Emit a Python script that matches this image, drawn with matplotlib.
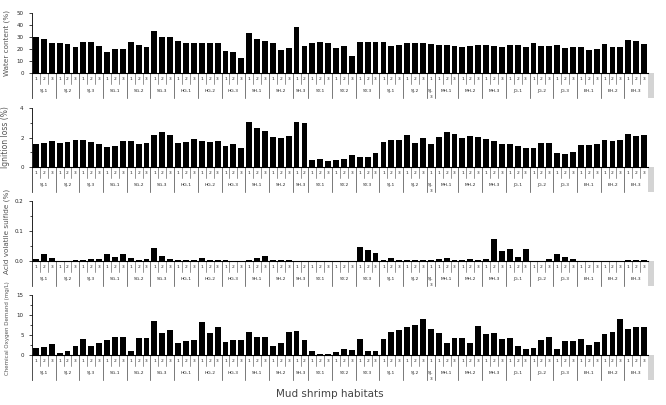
import numpy as np
import matplotlib
matplotlib.use("Agg")
import matplotlib.pyplot as plt
import matplotlib.transforms as mtransforms
from matplotlib.patches import Rectangle

# habitat groups and number of replicate samples in each
groups = ['SJ-1', 'SJ-2', 'SJ-3', 'SG-1', 'SG-2', 'SG-3', 'HG-1', 'HG-2', 'HG-3',
          'SH-1', 'SH-2', 'SH-3', 'SY-1', 'SY-2', 'SY-3', 'SJ-1', 'SJ-2', 'SJ-\n3',
          'MH-1', 'MH-2', 'MH-3', 'JG-1', 'JG-2', 'JG-3', 'BH-1', 'BH-2', 'BH-3']
counts = [3] * 11 + [2] + [3] * 5 + [1] + [3] * 9

water = [29.9, 28.5, 25.4, 25.4, 24.3, 22.0, 25.7, 25.7, 22.6, 17.9, 20.1, 20.1,
         25.7, 23.2, 21.5, 34.9, 30.4, 29.9, 26.5, 24.6, 25.4, 25.4, 24.9, 24.9,
         18.7, 17.6, 12.6, 33.2, 28.2, 26.5, 24.6, 19.0, 20.9, 38.3, 22.6,
         25.4, 25.7, 24.6, 20.7, 22.6, 14.2, 25.7, 25.7, 25.7, 25.7, 22.6, 23.2,
         24.9, 24.9, 24.9, 24.3, 23.2, 23.2, 22.1, 21.5, 22.1, 23.2, 23.2, 22.6, 21.5,
         23.2, 23.2, 21.5, 25.4, 22.6, 22.1, 23.2, 20.7, 21.5, 21.5, 19.3, 19.8,
         24.0, 21.5, 21.5, 27.7, 26.5, 24.3]
ignition = [1.53, 1.64, 1.75, 1.66, 1.71, 1.82, 1.80, 1.71, 1.53, 1.33, 1.44, 1.75,
            1.75, 1.53, 1.62, 2.20, 2.34, 2.20, 1.66, 1.71, 1.87, 1.75, 1.71, 1.75,
            1.44, 1.53, 1.28, 3.08, 2.65, 2.47, 2.02, 1.96, 2.11, 3.06, 3.01,
            0.49, 0.52, 0.40, 0.45, 0.56, 0.79, 0.70, 0.70, 0.92, 1.71, 1.80, 1.80,
            2.16, 1.62, 1.98, 1.57, 2.02, 2.34, 2.25, 1.96, 2.11, 2.02, 1.89, 1.75, 1.57,
            1.55, 1.39, 1.26, 1.30, 1.62, 1.62, 0.97, 0.85, 1.03, 1.48, 1.46, 1.53,
            1.80, 1.78, 1.82, 2.25, 2.11, 2.20]
avs = [0.007, 0.025, 0.009, 0.0, 0.0, 0.002, 0.005, 0.006, 0.006, 0.024, 0.015, 0.025,
       0.009, 0.002, 0.006, 0.045, 0.016, 0.007, 0.003, 0.003, 0.003, 0.010, 0.003, 0.005,
       0.002, 0.0, 0.0, 0.005, 0.011, 0.016, 0.002, 0.002, 0.002, 0.0, 0.0,
       0.0, 0.0, 0.0, 0.0, 0.0, 0.0, 0.047, 0.036, 0.026, 0.005, 0.011, 0.005,
       0.002, 0.005, 0.002, 0.005, 0.006, 0.009, 0.002, 0.002, 0.006, 0.002, 0.008, 0.072, 0.034,
       0.040, 0.015, 0.040, 0.0, 0.0, 0.006, 0.023, 0.012, 0.007, 0.0, 0.0, 0.0,
       0.0, 0.0, 0.0, 0.002, 0.003, 0.002]
cod = [1.74, 1.90, 2.80, 0.41, 1.08, 2.24, 3.98, 2.24, 2.90, 3.73, 4.56, 4.39,
       1.08, 4.30, 4.14, 8.45, 5.55, 6.13, 2.90, 3.56, 3.73, 8.37, 5.55, 7.12,
       3.31, 3.65, 3.65, 5.72, 4.56, 4.39, 2.15, 2.98, 5.72, 5.88, 3.65,
       0.91, 0.25, 0.25, 0.75, 1.60, 1.20, 3.90, 1.08, 1.08, 3.98, 5.80, 6.20,
       7.12, 7.50, 9.10, 6.55, 5.40, 3.07, 4.14, 4.14, 2.90, 7.20, 5.20, 5.55, 3.90,
       4.14, 2.24, 1.50, 1.82, 3.73, 4.39, 1.50, 3.40, 3.56, 3.98, 2.57, 3.15,
       5.20, 5.80, 9.10, 6.40, 7.12, 7.12]

ylabels = ['Water content (%)', 'Ignition loss (%)', 'Acid volatile sulfide (%)',
           'Chemical Oxygen Demand (mg/L)']
ylabel_sizes = [5.2, 5.5, 5.2, 4.0]
yticks = [[0, 10, 20, 30, 40, 50], [0, 2, 4], [0.0, 0.1, 0.2], [0, 5, 10, 15]]
yticklabels = [['0', '10', '20', '30', '40', '50'], ['0', '2', '4'],
               ['0.0', '0.1', '0.2'], ['0', '5', '10', '15']]
yminor = [[], [1, 3], [0.05, 0.15], [2.5, 7.5, 12.5]]
series = [water, ignition, avs, cod]

n = sum(counts)
x = np.arange(n)

fig = plt.figure(figsize=(6.66, 4.05), dpi=100)
W, H = 666, 405
# (top pixel, bottom pixel) of each plot area
panels = [(13, 73), (108, 167), (201, 261), (295, 355)]
left, right = 32, 648

for k, (top, bot) in enumerate(panels):
    ax = fig.add_axes([left / W, 1 - bot / H, (right - left) / W, (bot - top) / H])
    hpx = bot - top
    ax.bar(x, series[k], width=0.74, color='black')
    ax.set_xlim(-0.5, n - 0.5)
    ax.set_ylim(yticks[k][0], yticks[k][-1])
    ax.set_yticks(yticks[k])
    ax.set_yticklabels(yticklabels[k])
    ax.set_yticks(yminor[k], minor=True)
    ax.tick_params(axis='y', labelsize=4, length=2, width=0.6, pad=4, colors='#222222')
    ax.tick_params(axis='y', which='minor', length=1.5, width=0.5)
    ax.set_xticks([])
    for s in ['top', 'right']:
        ax.spines[s].set_visible(False)
    ax.spines['left'].set_linewidth(0.6)
    ax.spines['bottom'].set_linewidth(0.8)
    ax.set_ylabel(ylabels[k], fontsize=ylabel_sizes[k], color='#555555')
    ax.yaxis.set_label_coords(-22 / (right - left), 0.5 if k < 3 else 0.45)

    tr = mtransforms.blended_transform_factory(ax.transData, ax.transAxes)
    r1 = -11 / hpx
    r2 = -25 / hpx
    # left vertical line through the table
    ax.plot([-0.5, -0.5], [0, r2], transform=tr, color='#333333', lw=0.6, clip_on=False)
    # grey strip at right end
    ax.add_patch(Rectangle((n - 0.5, r2), 0.8, -r2, transform=tr, color='#d4d4d4',
                           clip_on=False, lw=0))
    pos = 0
    for g, c in zip(groups, counts):
        for j in range(c):
            ax.text(pos + j, r1 / 2, str(j + 1), transform=tr, fontsize=3.2,
                    ha='center', va='center', color='#222222')
            if j > 0:
                ax.plot([pos + j - 0.5] * 2, [0, r1], transform=tr, color='#444444',
                        lw=0.4, clip_on=False)
        ax.text(pos + (c - 1) / 2, (r1 + r2) / 2 + (0 if '\n' not in g else -0.05), g,
                transform=tr, fontsize=3.2, ha='center', va='center', color='#222222',
                linespacing=1.6)
        pos += c
        if pos < n:
            ax.plot([pos - 0.5] * 2, [0, r2], transform=tr, color='#444444',
                    lw=0.5, clip_on=False)

fig.text(330 / W, 1 - 394 / H, 'Mud shrimp habitats', fontsize=7.5, color='#444444',
         ha='center', va='center')

fig.savefig('out.png', dpi=100)
